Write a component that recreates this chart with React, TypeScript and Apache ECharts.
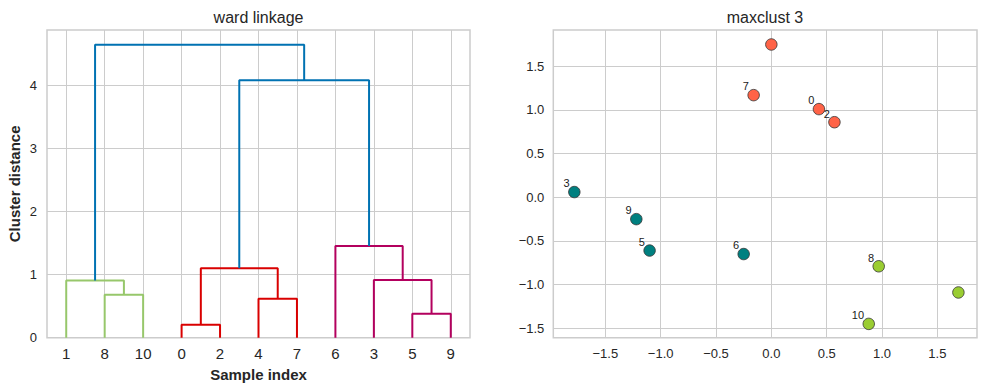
import React, { useEffect, useRef } from "react";
import * as echarts from "echarts";

const FONT = '"Liberation Sans", Arial, Helvetica, sans-serif';
const TEXT = "#262626";
const GRID = "#cccccc";

// ---------- dendrogram (ward linkage) ----------
const leafOrder = [1, 8, 10, 0, 2, 4, 7, 6, 3, 5, 9];
// merges, scipy-style: new cluster ids start at 11
const mergeA = [8, 1, 0, 4, 13, 5, 3, 6, 15, 12];
const mergeB = [10, 11, 2, 7, 14, 9, 16, 17, 18, 19];
const mergeHeight = [0.68, 0.905, 0.205, 0.615, 1.1, 0.38, 0.915, 1.45, 4.075, 4.64];
const mergeColor = ["green", "green", "red", "red", "red", "magenta", "magenta", "magenta", "blue", "blue"];
const linkColors: Record<string, string> = {
  green: "#97c76b",
  red: "#d90000",
  magenta: "#b3005e",
  blue: "#0072b2",
};
const yTicksLeft = [0, 1, 2, 3, 4];

// ---------- scatter (maxclust 3) ----------
const pointX = [0.43, 1.69, 0.57, -1.78, 0.0, -1.1, -0.25, -0.16, 0.97, -1.22, 0.88];
const pointY = [1.01, -1.09, 0.86, 0.06, 1.75, -0.61, -0.65, 1.17, -0.79, -0.25, -1.45];
const pointCluster = [0, 2, 0, 1, 0, 1, 1, 0, 2, 1, 2];
const pointLabelled = [true, false, true, true, false, true, true, true, true, true, true];
const clusterColors = ["#ff6347", "#008080", "#9acd32"];
const xTicksRight = [-1.5, -1.0, -0.5, 0.0, 0.5, 1.0, 1.5];
const yTicksRight = [-1.5, -1.0, -0.5, 0.0, 0.5, 1.0, 1.5];

function buildDendrogram() {
  const nodeX: Record<number, number> = {};
  const nodeH: Record<number, number> = {};
  leafOrder.forEach((leaf, i) => {
    nodeX[leaf] = i * 10 + 5;
    nodeH[leaf] = 0;
  });
  const series: any[] = [];
  mergeA.forEach((a, k) => {
    const b = mergeB[k];
    const h = mergeHeight[k];
    const id = leafOrder.length + k;
    const xa = nodeX[a];
    const xb = nodeX[b];
    const left = xa <= xb ? a : b;
    const right = xa <= xb ? b : a;
    series.push({
      type: "line",
      xAxisIndex: 0,
      yAxisIndex: 0,
      showSymbol: false,
      symbol: "none",
      silent: true,
      z: 3,
      lineStyle: { color: linkColors[mergeColor[k]], width: 2 },
      data: [
        [nodeX[left], nodeH[left]],
        [nodeX[left], h],
        [nodeX[right], h],
        [nodeX[right], nodeH[right]],
      ],
    });
    nodeX[id] = (xa + xb) / 2;
    nodeH[id] = h;
  });
  return { series, top: Math.max(...mergeHeight) * 1.05 };
}

const fmtNum = (v: number) => v.toFixed(1).replace("-", "\u2212");

export default function App() {
  const ref = useRef<HTMLDivElement>(null);
  useEffect(() => {
    if (!ref.current) return;
    const chart = echarts.init(ref.current, undefined, { renderer: "svg" });
    const dendro = buildDendrogram();
    const leafPos = leafOrder.map((_, i) => i * 10 + 5);

    const option: any = {
      animation: false,
      backgroundColor: "#ffffff",
      textStyle: { fontFamily: FONT },
      graphic: [
        {
          type: "text",
          x: 258.5,
          y: 17,
          style: { text: "ward linkage", fontSize: 16, fontFamily: FONT, fill: TEXT, align: "center", verticalAlign: "middle" },
        },
        {
          type: "text",
          x: 765,
          y: 17,
          style: { text: "maxclust 3", fontSize: 16, fontFamily: FONT, fill: TEXT, align: "center", verticalAlign: "middle" },
        },
      ],
      grid: [
        { left: 47, top: 30, width: 423, height: 307.7, show: true, borderColor: GRID, borderWidth: 1.5, backgroundColor: "transparent" },
        { left: 553.3, top: 30, width: 423.7, height: 307.7, show: true, borderColor: GRID, borderWidth: 1.5, backgroundColor: "transparent" },
      ],
      xAxis: [
        {
          gridIndex: 0,
          type: "value",
          min: 0,
          max: 110,
          axisLine: { show: false },
          axisTick: { show: false, customValues: leafPos },
          axisLabel: {
            customValues: leafPos,
            formatter: (v: number) => String(leafOrder[Math.round((v - 5) / 10)]),
            fontSize: 15,
            color: TEXT,
            margin: 8,
            fontFamily: FONT,
          },
          splitLine: { show: true, lineStyle: { color: GRID, width: 1 } },
          name: "Sample index",
          nameLocation: "middle",
          nameGap: 29,
          nameTextStyle: { fontSize: 15, fontWeight: "bold", color: TEXT, fontFamily: FONT },
        },
        {
          gridIndex: 1,
          type: "value",
          min: -1.97,
          max: 1.858,
          axisLine: { show: false },
          axisTick: { show: false, customValues: xTicksRight },
          axisLabel: { customValues: xTicksRight, formatter: fmtNum, fontSize: 13, color: TEXT, margin: 9, fontFamily: FONT },
          splitLine: { show: true, lineStyle: { color: GRID, width: 1 } },
        },
      ],
      yAxis: [
        {
          gridIndex: 0,
          type: "value",
          min: 0,
          max: dendro.top,
          axisLine: { show: false },
          axisTick: { show: false, customValues: yTicksLeft },
          axisLabel: { customValues: yTicksLeft, formatter: (v: number) => String(v), fontSize: 13, color: TEXT, margin: 10, fontFamily: FONT },
          splitLine: { show: true, lineStyle: { color: GRID, width: 1 } },
          name: "Cluster distance",
          nameLocation: "middle",
          nameGap: 25,
          nameTextStyle: { fontSize: 15, fontWeight: "bold", color: TEXT, fontFamily: FONT },
        },
        {
          gridIndex: 1,
          type: "value",
          min: -1.608,
          max: 1.916,
          axisLine: { show: false },
          axisTick: { show: false, customValues: yTicksRight },
          axisLabel: { customValues: yTicksRight, formatter: fmtNum, fontSize: 13, color: TEXT, margin: 9, fontFamily: FONT },
          splitLine: { show: true, lineStyle: { color: GRID, width: 1 } },
        },
      ],
      series: [
        ...dendro.series,
        {
          type: "scatter",
          xAxisIndex: 1,
          yAxisIndex: 1,
          symbol: "circle",
          symbolSize: 11.5,
          z: 3,
          silent: true,
          itemStyle: { opacity: 1 },
          label: {
            show: true,
            formatter: "{b}",
            position: [1.5, 3],
            align: "right",
            verticalAlign: "bottom",
            fontSize: 11,
            color: "#1a1a1a",
            fontFamily: FONT,
          },
          data: pointX.map((x, i) => ({
            name: String(i),
            value: [x, pointY[i]],
            itemStyle: { color: clusterColors[pointCluster[i]], borderColor: "#333333", borderWidth: 0.8, opacity: 1 },
            label: { show: pointLabelled[i] },
          })),
        },
      ],
    };
    chart.setOption(option);
    return () => chart.dispose();
  }, []);
  return <div ref={ref} style={{ position: "absolute", left: 0, top: 0, width: 987, height: 392 }} />;
}
